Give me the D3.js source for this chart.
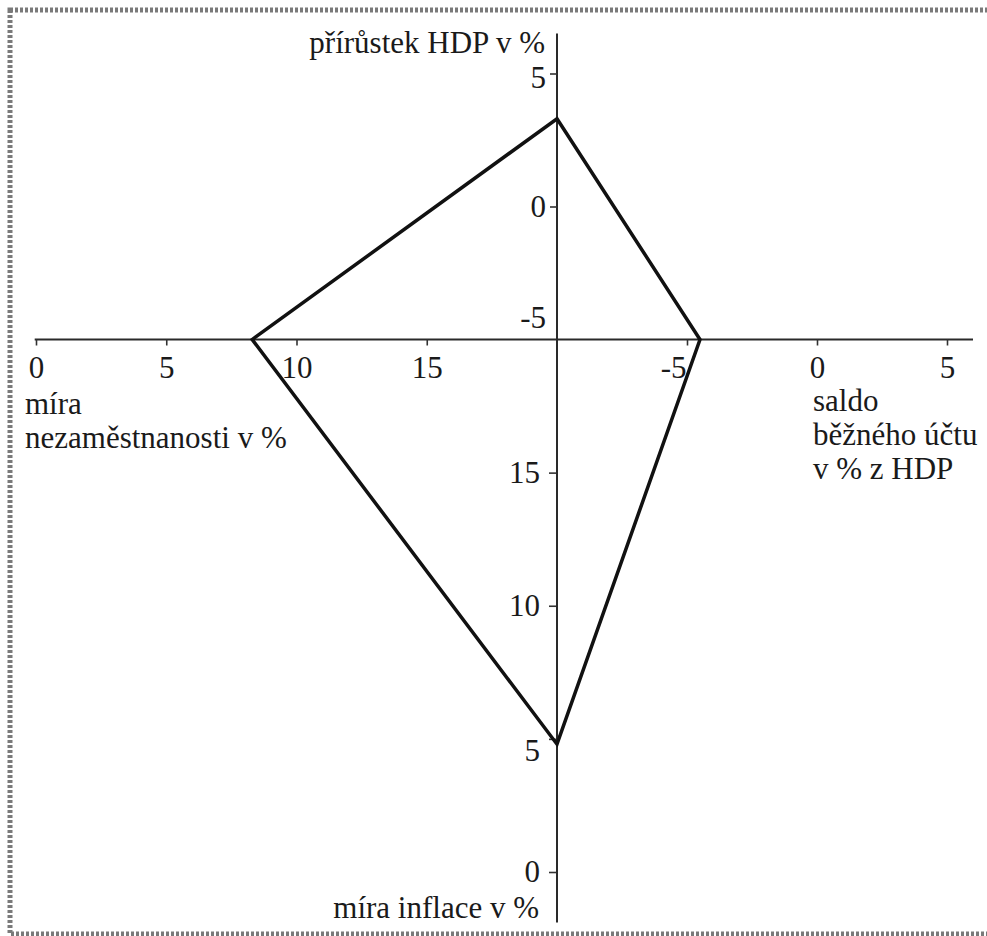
<!DOCTYPE html>
<html>
<head>
<meta charset="utf-8">
<script src="https://cdn.jsdelivr.net/npm/d3@7"></script>
<style>
  html, body { margin: 0; padding: 0; background: #fff; overflow: hidden; }
  svg { display: block; }
  text { font-family: 'Liberation Serif', 'Times New Roman', serif; fill: #1a1a1a; }
  .tick line { stroke: #333; stroke-width: 1.6; }
</style>
</head>
<body>
<svg id="chart"></svg>
<script>
// magický čtyřúhelník: one value per axis
const axisNames = ['přírůstek HDP v %', 'saldo běžného účtu v % z HDP', 'míra inflace v %', 'míra nezaměstnanosti v %'];
const values = [3.3, -4.5, 4.8, 8.3];

const gdpTicks = [-5, 0, 5];
const balanceTicks = [-5, 0, 5];
const inflationTicks = [0, 5, 10, 15];
const unemploymentTicks = [0, 5, 10, 15];

const svgWidth = 987;
const svgHeight = 936;
const originX = 557;
const originY = 339.5;
const fontSize = '31px';
const hyphenFormat = d => d < 0 ? '-' + Math.abs(d) : String(d);

const svg = d3.select('#chart')
  .attr('width', svgWidth)
  .attr('height', svgHeight);

// scanned frame (left, top and bottom edges only)
svg.append('rect')
  .attr('x', 10).attr('y', 10)
  .attr('width', 1010).attr('height', 924)
  .attr('fill', 'none')
  .attr('stroke', '#7a7a7a')
  .attr('stroke-width', 5)
  .attr('stroke-dasharray', '3,2');

// four half-axes meeting in the origin
const gdpScale = d3.scaleLinear().domain([-5, 5]).range([originY, 73.5]);
const inflationScale = d3.scaleLinear().domain([20, 0]).range([originY, 872]);
const unemploymentScale = d3.scaleLinear().domain([0, 20]).range([36, originX]);
const balanceScale = d3.scaleLinear().domain([-10, 5]).range([originX, 947]);

// full axis lines
svg.append('line')
  .attr('x1', originX).attr('x2', originX)
  .attr('y1', gdpScale(6.5)).attr('y2', inflationScale(-1.9))
  .attr('stroke', '#2a2a2a').attr('stroke-width', 2);

svg.append('line')
  .attr('x1', unemploymentScale(-0.05)).attr('x2', balanceScale(6))
  .attr('y1', originY).attr('y2', originY)
  .attr('stroke', '#2a2a2a').attr('stroke-width', 2);

const gdpAxis = svg.append('g')
  .attr('transform', `translate(${originX},0)`)
  .call(d3.axisLeft(gdpScale).tickValues(gdpTicks).tickSize(7).tickPadding(4).tickFormat(hyphenFormat));

const inflationAxis = svg.append('g')
  .attr('transform', `translate(${originX - 1},0)`)
  .call(d3.axisLeft(inflationScale).tickValues(inflationTicks).tickSize(7).tickPadding(9).tickFormat(hyphenFormat));

const unemploymentAxis = svg.append('g')
  .attr('transform', `translate(0,${originY})`)
  .call(d3.axisBottom(unemploymentScale).tickValues(unemploymentTicks).tickSize(6).tickPadding(10).tickFormat(hyphenFormat));

const balanceAxis = svg.append('g')
  .attr('transform', `translate(0,${originY})`)
  .call(d3.axisBottom(balanceScale).tickValues(balanceTicks).tickSize(6).tickPadding(10).tickFormat(hyphenFormat));

[gdpAxis, inflationAxis, unemploymentAxis, balanceAxis].forEach(g => {
  g.select('.domain').remove();
  g.selectAll('text')
    .attr('font-family', null)
    .attr('fill', null)
    .style('font-size', fontSize);
});

// labels moved off the crossing lines as in the original
gdpAxis.selectAll('.tick').filter(d => d === -5).select('line').remove();
gdpAxis.selectAll('.tick').filter(d => d === -5).select('text').attr('dy', '-0.38em');
gdpAxis.selectAll('.tick').filter(d => d === 5).select('text').attr('dy', '0.46em');
inflationAxis.selectAll('.tick').filter(d => d === 5).select('text').attr('dy', '0.7em');
balanceAxis.selectAll('.tick').filter(d => d === -5).select('text').attr('dx', '-0.45em');

// axis titles
svg.append('text')
  .attr('x', 545).attr('y', 53)
  .attr('text-anchor', 'end')
  .style('font-size', fontSize)
  .text(axisNames[0]);

svg.append('text')
  .attr('x', 539).attr('y', 918)
  .attr('text-anchor', 'end')
  .style('font-size', fontSize)
  .text(axisNames[2]);

svg.append('text')
  .attr('x', 25).attr('y', 414)
  .style('font-size', fontSize)
  .selectAll('tspan')
  .data(['míra', 'nezaměstnanosti v %'])
  .enter().append('tspan')
  .attr('x', 25)
  .attr('dy', (d, i) => i === 0 ? 0 : 34)
  .text(d => d);

svg.append('text')
  .attr('x', 813).attr('y', 411)
  .style('font-size', fontSize)
  .selectAll('tspan')
  .data(['saldo', 'běžného účtu', 'v % z HDP'])
  .enter().append('tspan')
  .attr('x', 813)
  .attr('dy', (d, i) => i === 0 ? 0 : 34)
  .text(d => d);

// the quadrangle
const corners = [
  [originX, gdpScale(values[0])],
  [balanceScale(values[1]), originY],
  [originX, inflationScale(values[2])],
  [unemploymentScale(values[3]), originY]
];

svg.append('path')
  .attr('d', d3.line()(corners) + 'Z')
  .attr('fill', 'none')
  .attr('stroke', '#111')
  .attr('stroke-width', 3.5)
  .attr('stroke-linejoin', 'miter');
</script>
</body>
</html>
